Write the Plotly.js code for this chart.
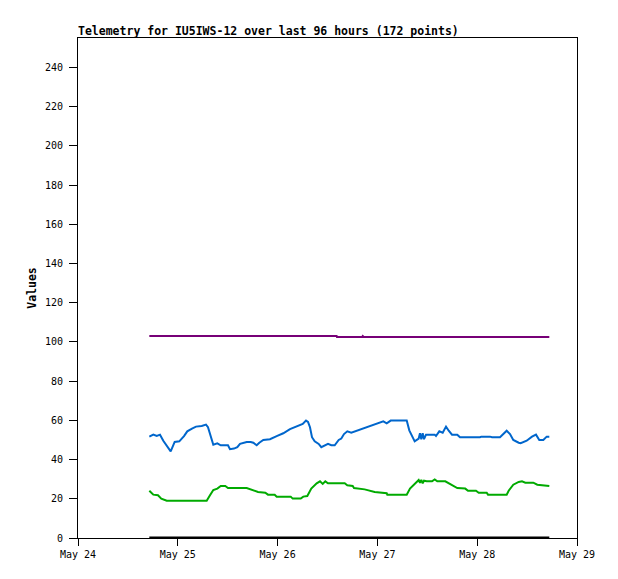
<!DOCTYPE html>
<html>
<head>
<meta charset="utf-8">
<script src="https://cdn.plot.ly/plotly-3.0.1.min.js"></script>
<style>
  html, body { margin: 0; padding: 0; background: #fff; }
  #grafico { width: 618px; height: 579px; }
</style>
</head>
<body>
<div id="grafico"></div>
<script>
// hours counted from May 24 00:00
const horasAzul = [17.15, 18.11, 18.93, 19.72, 20.51, 21.33, 22.29, 23.25, 24.36, 25.49,
    26.28, 27.41, 28.38, 29.75, 30.78, 31.26, 31.91, 32.54, 33.50, 34.32,
    36.07, 36.55, 37.51, 38.31, 38.96, 40.57, 41.53, 42.16, 42.97, 43.60,
    44.56, 46.17, 47.78, 49.37, 50.98, 52.59, 54.04, 54.83, 55.31, 55.79,
    56.27, 56.92, 57.88, 58.51, 59.33, 60.12, 60.91, 61.73, 62.69, 63.32,
    63.97, 64.76, 65.72, 66.69, 67.98, 69.91, 71.83, 73.42, 74.24, 75.20,
    79.05, 79.67, 80.97, 81.93, 82.24, 82.56, 82.89, 83.21, 83.69, 85.78,
    86.09, 86.89, 87.70, 88.50, 89.15, 89.94, 91.21, 91.86, 96.67, 96.99,
    99.08, 99.56, 101.48, 102.28, 103.09, 103.89, 104.68, 105.98, 106.46, 107.90,
    109.18, 110.14, 110.93, 111.90, 112.71, 113.34];
const valoresAzul = [51.7, 52.7, 52.0, 52.7, 49.6, 47.3, 44.2, 49.0, 49.3, 52.0,
    54.4, 55.8, 56.8, 57.1, 57.8, 56.5, 51.7, 47.6, 48.3, 47.3,
    47.3, 45.3, 45.6, 46.3, 48.0, 49.0, 49.0, 48.6, 47.3, 48.6,
    50.0, 50.4, 52.0, 53.4, 55.5, 57.1, 58.2, 59.9, 59.2, 56.5,
    51.4, 49.3, 48.0, 46.3, 47.3, 48.0, 47.3, 47.3, 50.0, 50.7,
    53.0, 54.4, 53.7, 54.4, 55.5, 57.1, 58.2, 59.5, 58.5, 59.9,
    59.9, 54.9, 49.3, 50.7, 53.4, 50.4, 53.4, 50.4, 52.7, 52.7,
    52.0, 54.4, 53.7, 56.8, 54.7, 52.7, 52.7, 51.4, 51.4, 51.7,
    51.7, 51.4, 51.4, 53.0, 54.7, 53.0, 50.0, 48.6, 48.3, 49.6,
    51.7, 52.7, 50.0, 50.0, 51.7, 51.7];

const horasVerde = [17.15, 18.11, 19.24, 20.03, 21.33, 30.95, 31.74, 32.54, 33.50, 34.32,
    35.42, 36.07, 40.57, 41.84, 43.29, 45.04, 45.69, 47.30, 47.78, 51.15,
    51.63, 53.56, 54.18, 55.14, 56.10, 57.40, 58.20, 58.85, 59.47, 60.12,
    64.14, 64.76, 66.06, 66.37, 68.94, 71.35, 74.24, 74.38, 79.05, 79.84,
    80.80, 81.93, 82.24, 82.56, 82.89, 83.21, 83.86, 85.13, 85.78, 86.41,
    88.33, 89.15, 90.25, 91.21, 93.13, 93.79, 95.71, 96.36, 98.28, 98.60,
    103.09, 103.57, 104.68, 105.98, 106.77, 107.57, 109.49, 110.45, 113.34];
const valoresVerde = [24.1, 22.1, 21.8, 20.1, 19.0, 19.0, 21.8, 24.5, 25.2, 26.5,
    26.5, 25.5, 25.5, 24.5, 23.5, 23.1, 22.1, 22.1, 21.1, 21.1,
    20.1, 20.1, 21.1, 21.4, 25.2, 27.9, 28.9, 27.6, 28.9, 27.9,
    27.9, 26.9, 26.5, 25.5, 24.8, 23.5, 22.8, 22.1, 22.1, 25.2,
    27.2, 29.6, 28.2, 29.6, 27.9, 29.2, 28.9, 28.9, 29.9, 28.9,
    28.9, 27.9, 26.5, 25.5, 25.2, 24.1, 24.1, 23.1, 23.1, 22.1,
    22.1, 24.1, 27.2, 28.6, 28.9, 28.2, 28.2, 27.2, 26.5];

const horasMorado = [17.15, 62.20, 62.28, 68.30, 68.47, 68.70, 113.34];
const valoresMorado = [103, 103, 102.5, 102.5, 103, 102.5, 102.5];

const horasNegro = [17.15, 113.34];
const valoresNegro = [0, 0];

const etiquetasX = ["May 24", "May 25", "May 26", "May 27", "May 28", "May 29"];

const base = Date.UTC(2024, 4, 24);
function aFecha(horas) {
    return horas.map(h => base + h * 3600000);
}
const diasTicks = etiquetasX.map((_, i) => base + i * 86400000);

const fuente = "DejaVu Sans Mono, Liberation Mono, monospace";

function serie(horas, valores, color, ancho) {
    return {
        x: aFecha(horas),
        y: valores,
        type: "scatter",
        mode: "lines",
        line: { color: color, width: ancho },
        hoverinfo: "x+y"
    };
}

const trazas = [
    serie(horasNegro, valoresNegro, "#000000", 3),
    serie(horasVerde, valoresVerde, "#00aa00", 2),
    serie(horasAzul, valoresAzul, "#0066cc", 2),
    serie(horasMorado, valoresMorado, "#770077", 2)
];

const layout = {
    width: 618,
    height: 579,
    margin: { l: 78, r: 41, t: 38, b: 41 },
    paper_bgcolor: "#ffffff",
    plot_bgcolor: "#ffffff",
    showlegend: false,
    font: { family: fuente, size: 10, color: "#000" },
    title: {
        text: "<b>Telemetry for IU5IWS-12 over last 96 hours (172 points)</b>",
        font: { family: fuente, size: 11.5, color: "#000" },
        xref: "paper", x: 0, xanchor: "left",
        yref: "container", y: 1 - 31 / 579, yanchor: "middle"
    },
    xaxis: {
        type: "date",
        range: [base, base + 5 * 86400000],
        tickvals: diasTicks,
        ticktext: etiquetasX,
        ticks: "outside", ticklen: 7, tickwidth: 1, tickcolor: "#000",
        showline: true, linecolor: "#000", linewidth: 1, mirror: true,
        showgrid: false, zeroline: false,
        tickfont: { family: fuente, size: 10 }
    },
    yaxis: {
        range: [0, 255],
        tick0: 0, dtick: 20,
        ticks: "outside", ticklen: 8, tickwidth: 1, tickcolor: "#000",
        ticklabelstandoff: 4,
        showline: true, linecolor: "#000", linewidth: 1, mirror: true,
        showgrid: false, zeroline: false,
        tickfont: { family: fuente, size: 10 },
        title: { text: "<b>Values</b>", font: { family: fuente, size: 11.5 }, standoff: 5 }
    }
};

Plotly.newPlot("grafico", trazas, layout, { displayModeBar: false, staticPlot: true });
</script>
</body>
</html>
